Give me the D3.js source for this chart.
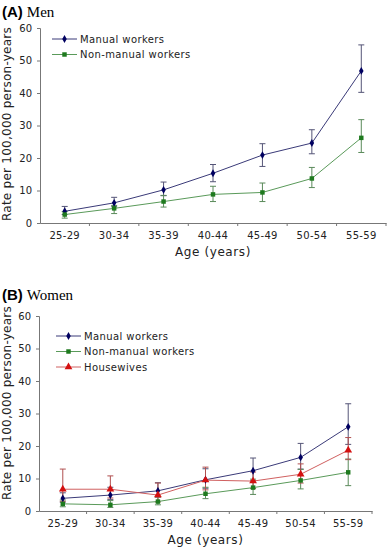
<!DOCTYPE html>
<html><head><meta charset="utf-8">
<script src="https://cdn.jsdelivr.net/npm/d3@7"></script>
<style>body{margin:0;background:#fff;} svg{display:block;}</style>
</head><body>
<svg id="chart" width="387" height="550"></svg>
<script>
const categories = ["25-29","30-34","35-39","40-44","45-49","50-54","55-59"];
const yTicks = [0,10,20,30,40,50,60];

// Men
const menManual = [3.6, 6.2, 10.2, 15.3, 20.9, 24.6, 46.8];
const menManualLo = [2.6, 5.0, 8.4, 12.7, 17.4, 21.3, 40.2];
const menManualHi = [5.1, 7.9, 12.6, 18.0, 24.4, 28.7, 54.8];
const menNonManual = [2.6, 4.5, 6.6, 8.8, 9.4, 13.7, 26.2];
const menNonManualLo = [1.5, 2.9, 4.9, 6.6, 6.6, 10.9, 21.7];
const menNonManualHi = [3.5, 5.4, 8.5, 11.3, 12.3, 17.1, 31.8];

// Women
const womenManual = [3.9, 4.9, 6.2, 9.6, 12.4, 16.5, 25.9];
const womenManualLo = [2.7, 3.5, 4.3, 7.0, 9.3, 12.9, 20.5];
const womenManualHi = [5.6, 7.3, 8.7, 13.0, 16.3, 20.8, 33.0];
const womenNonManual = [2.2, 1.9, 2.9, 5.3, 7.2, 9.4, 11.9];
const womenNonManualLo = [1.3, 1.1, 1.9, 3.8, 5.1, 6.8, 7.8];
const womenNonManualHi = [3.4, 3.2, 4.3, 7.3, 9.8, 12.8, 16.0];
const housewives = [6.7, 6.7, 4.9, 9.5, 9.2, 11.3, 18.7];
const housewivesLo = [3.0, 4.0, 2.8, 6.5, 6.9, 8.6, 15.8];
const housewivesHi = [12.9, 10.8, 8.6, 13.5, 12.0, 14.5, 22.6];

const styles = {
  manual: {line:"#3a3a78", err:"#555577", fill:"#000060", shape:d3.symbolDiamond, size:18},
  nonmanual: {line:"#5a9a5a", err:"#5a8a5a", fill:"#1e7a1e", shape:d3.symbolSquare, size:20},
  house: {line:"#d06060", err:"#b05050", fill:"#d41010", shape:d3.symbolTriangle, size:26}
};

const svg = d3.select("#chart");
const FONT = "'DejaVu Sans', Verdana, sans-serif";

function panel(cfg){
  const g = svg.append("g");
  const x = d3.scaleBand().domain(categories).range([cfg.x0, cfg.x1]);
  const y = d3.scaleLinear().domain([0,60]).range([cfg.y0, cfg.y1]);

  // title
  const t = g.append("text").attr("x", 2).attr("y", cfg.titleY);
  t.append("tspan").attr("font-family","Arial, 'Liberation Sans', sans-serif").attr("font-weight","bold").attr("font-size",15).text(cfg.letter);
  t.append("tspan").attr("font-family","'Liberation Serif', 'Times New Roman', serif").attr("font-size",15).attr("dx",4).text(cfg.title);

  // y axis
  const ya = g.append("g").attr("transform",`translate(${cfg.x0},0)`)
    .call(d3.axisLeft(y).tickValues(yTicks).tickSize(3).tickPadding(5));
  ya.select(".domain").attr("stroke","#777");
  ya.selectAll(".tick line").attr("stroke","#777");
  ya.selectAll("text").attr("font-family",FONT).attr("font-size",10).attr("fill","#222");

  // x axis
  const xa = g.append("g").attr("transform",`translate(0,${cfg.y0})`)
    .call(d3.axisBottom(x).tickSize(0).tickPadding(9).tickSizeOuter(0));
  xa.select(".domain").attr("stroke","#777");
  xa.selectAll("text").attr("font-family",FONT).attr("font-size",10).attr("letter-spacing",0.3).attr("fill","#222");
  const edges = categories.map(c=>x(c)).concat([x.range()[1]]);
  g.selectAll(".xt").data(edges.slice(1)).join("line")
    .attr("x1",d=>d).attr("x2",d=>d).attr("y1",cfg.y0).attr("y2",cfg.y0+3).attr("stroke","#777");

  g.append("text").attr("x",(cfg.x0+cfg.x1)/2).attr("y",cfg.y0+33).attr("text-anchor","middle")
    .attr("font-family",FONT).attr("font-size",12).attr("letter-spacing",0.6).attr("fill","#222").text("Age (years)");

  g.append("text").attr("transform",`translate(11,${cfg.labelY}) rotate(-90)`)
    .attr("text-anchor","middle").attr("font-family",FONT).attr("font-size",12).attr("letter-spacing",0.25).attr("fill","#222")
    .text("Rate per 100,000 person-years");

  const cx = c => x(c) + x.bandwidth()/2;
  const line = d3.line().x((d,i)=>cx(categories[i])).y(d=>y(d));

  // error bars first
  cfg.series.forEach(s=>{
    const st = styles[s.key];
    categories.forEach((c,i)=>{
      const px = cx(c);
      g.append("line").attr("x1",px).attr("x2",px).attr("y1",y(s.lo[i])).attr("y2",y(s.hi[i])).attr("stroke",st.err).attr("stroke-width",1);
      [s.lo[i], s.hi[i]].forEach(v=>{
        g.append("line").attr("x1",px-3).attr("x2",px+3).attr("y1",y(v)).attr("y2",y(v)).attr("stroke",st.err).attr("stroke-width",1);
      });
    });
  });
  cfg.series.forEach(s=>{
    const st = styles[s.key];
    g.append("path").datum(s.v).attr("d",line).attr("fill","none").attr("stroke",st.line).attr("stroke-width",1);
    g.selectAll(null).data(s.v).join("path")
      .attr("transform",(d,i)=>`translate(${cx(categories[i])},${y(d)})`)
      .attr("d",d3.symbol().type(st.shape).size(st.size)).attr("fill",st.fill);
  });

  // legend
  cfg.series.forEach((s,i)=>{
    const st = styles[s.key];
    const ly = cfg.legY + i*cfg.legDy;
    g.append("line").attr("x1",cfg.legX).attr("x2",cfg.legX+25).attr("y1",ly).attr("y2",ly).attr("stroke",st.line).attr("stroke-width",1);
    g.append("path").attr("transform",`translate(${cfg.legX+12.5},${ly})`).attr("d",d3.symbol().type(st.shape).size(st.size)).attr("fill",st.fill);
    g.append("text").attr("x",cfg.legX+28).attr("y",ly+3.5).attr("font-family",FONT).attr("font-size",10).attr("letter-spacing",0.4).attr("fill","#222").text(s.name);
  });
}

panel({letter:"(A)", title:"Men", titleY:17, x0:40, x1:386, y0:223, y1:28, labelY:124, legX:52, legY:39, legDy:15.5,
  series:[
    {key:"manual", name:"Manual workers", v:menManual, lo:menManualLo, hi:menManualHi},
    {key:"nonmanual", name:"Non-manual workers", v:menNonManual, lo:menNonManualLo, hi:menNonManualHi}
  ]});

panel({letter:"(B)", title:"Women", titleY:300, x0:39, x1:372, y0:511, y1:316, labelY:403, legX:56, legY:336, legDy:15.5,
  series:[
    {key:"manual", name:"Manual workers", v:womenManual, lo:womenManualLo, hi:womenManualHi},
    {key:"nonmanual", name:"Non-manual workers", v:womenNonManual, lo:womenNonManualLo, hi:womenNonManualHi},
    {key:"house", name:"Housewives", v:housewives, lo:housewivesLo, hi:housewivesHi}
  ]});
</script>
</body></html>
